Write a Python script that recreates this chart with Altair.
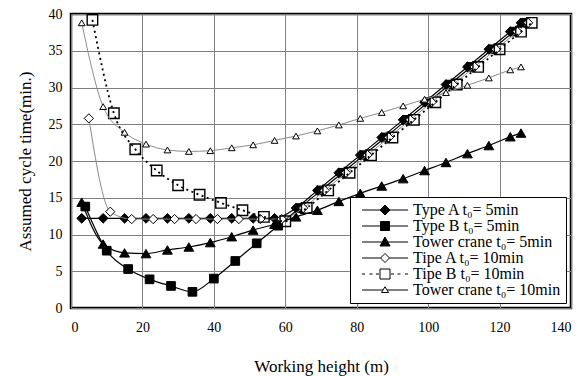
import altair as alt
import pandas as pd

FONT = "Times New Roman, Liberation Serif, serif"

series_names = [
    "Type A t₀= 5min",
    "Type B t₀= 5min",
    "Tower crane t₀= 5min",
    "Tipe A t₀= 10min",
    "Tipe B t₀= 10min",
    "Tower crane t₀= 10min",
]

# Type A, t = 5 min (filled diamonds)
x_type_a5 = [3, 9, 15, 21, 27, 33, 39, 45, 51, 57, 63, 69, 75, 81, 87, 93, 99, 105, 111, 117, 123, 126]
y_type_a5 = [12.2, 12.2, 12.2, 12.2, 12.2, 12.2, 12.2, 12.2, 12.2, 12.2,
             13.6, 16.0, 18.4, 20.8, 23.2, 25.6, 28.0, 30.4, 32.8, 35.2, 37.6, 38.8]

# Type B, t = 5 min (filled squares)
x_type_b5 = [4, 10, 16, 22, 28, 34, 40, 46, 52, 58, 64, 70, 76, 82, 88, 94, 100, 106, 112, 118, 124, 127]
y_type_b5 = [13.8, 7.8, 5.3, 3.9, 3.0, 2.2, 4.0, 6.4, 8.8, 11.2,
             13.6, 16.0, 18.4, 20.8, 23.2, 25.6, 28.0, 30.4, 32.8, 35.2, 37.6, 38.8]

# Tower crane, t = 5 min (filled triangles)
x_tower5 = [3, 9, 15, 21, 27, 33, 39, 45, 51, 57, 63, 69, 75, 81, 87, 93, 99, 105, 111, 117, 123, 126]
y_tower5 = [14.4, 8.7, 7.5, 7.4, 7.9, 8.3, 8.9, 9.7, 10.6, 11.4, 12.4,
            13.3, 14.5, 15.6, 16.6, 17.6, 18.7, 19.8, 21.0, 22.1, 23.3, 23.8]

# Tipe A, t = 10 min (open diamonds)
x_tipe_a10 = [5, 11, 17, 23, 29, 35, 41, 47, 53, 59, 65, 71, 77, 83, 89, 95, 101, 107, 113, 119, 125, 128]
y_tipe_a10 = [25.8, 13.1, 12.1, 12.1, 12.1, 12.1, 12.1, 12.1, 12.1, 12.1,
              13.6, 16.0, 18.4, 20.8, 23.2, 25.6, 28.0, 30.4, 32.8, 35.2, 37.6, 38.8]

# Tipe B, t = 10 min (open squares, dotted)
x_tipe_b10 = [6, 12, 18, 24, 30, 36, 42, 48, 54, 60, 66, 72, 78, 84, 90, 96, 102, 108, 114, 120, 126, 129]
y_tipe_b10 = [39.2, 26.5, 21.6, 18.7, 16.7, 15.4, 14.3, 13.3, 12.4, 11.8,
              13.6, 16.0, 18.4, 20.8, 23.2, 25.6, 28.0, 30.4, 32.8, 35.2, 37.6, 38.8]

# Tower crane, t = 10 min (open triangles)
x_tower10 = [3, 9, 15, 21, 27, 33, 39, 45, 51, 57, 63, 69, 75, 81, 87, 93, 99, 105, 111, 117, 123, 126]
y_tower10 = [38.8, 27.4, 23.9, 22.3, 21.5, 21.3, 21.4, 21.8, 22.2, 22.8, 23.4,
             24.1, 24.9, 25.8, 26.6, 27.5, 28.4, 29.3, 30.3, 31.3, 32.4, 32.8]

x_ticks = [0, 20, 40, 60, 80, 100, 120, 140]
y_ticks = [0, 5, 10, 15, 20, 25, 30, 35, 40]

xs_all = [x_type_a5, x_type_b5, x_tower5, x_tipe_a10, x_tipe_b10, x_tower10]
ys_all = [y_type_a5, y_type_b5, y_tower5, y_tipe_a10, y_tipe_b10, y_tower10]

df = pd.concat(
    [pd.DataFrame({"series": n, "x": xs, "y": ys}) for n, xs, ys in zip(series_names, xs_all, ys_all)],
    ignore_index=True,
)

styles = [
    dict(lc="black", lw=1.2, dash=None, shape="diamond", size=95, fill="black", filled=True, sw=1),
    dict(lc="black", lw=1.2, dash=None, shape="square", size=75, fill="black", filled=True, sw=1),
    dict(lc="black", lw=1.2, dash=None, shape="triangle-up", size=95, fill="black", filled=True, sw=1),
    dict(lc="#8a8a8a", lw=1.0, dash=None, shape="diamond", size=85, fill="white", filled=True, sw=1),
    dict(lc="black", lw=1.8, dash=[2, 3.5], shape="square", size=110, fill=None, filled=False, sw=1.4),
    dict(lc="#8a8a8a", lw=1.0, dash=None, shape="triangle-up", size=45, fill="white", filled=True, sw=1),
]

legend_paths = [
    "M-4.6,0H-1M1,0H4.6M0,-1L1,0L0,1L-1,0Z",
    "M-4.6,0H-0.9M0.9,0H4.6M-0.9,-0.9H0.9V0.9H-0.9Z",
    "M-4.6,0H-0.55M0.55,0H4.6M0,-1L1,0.8L-1,0.8Z",
    "M-4.6,0H-0.9M0.9,0H4.6M0,-0.9L0.9,0L0,0.9L-0.9,0Z",
    "M-4.6,0H-4.0M-3.1,0H-2.5M-1.8,0H-1.2M1.2,0H1.8M2.5,0H3.1M4.0,0H4.6M-1,-1H1V1H-1Z",
    "M-4.6,0H-0.4M0.4,0H4.6M0,-0.65L0.7,0.5L-0.7,0.5Z",
]
legend_fills = ["black", "black", "black", "white", "white", "white"]

xscale = alt.Scale(domain=[0, 140], nice=False, zero=False)
yscale = alt.Scale(domain=[0, 40], nice=False, zero=False)
axis_font = dict(labelFont=FONT, labelFontSize=14, labelColor="black",
                 titleFont=FONT, titleFontSize=17, titleFontWeight="normal", titleColor="black",
                 gridColor="#808080", gridWidth=1, gridOpacity=1)
xaxis = alt.Axis(values=x_ticks, title="Working height (m)", labelPadding=12, titlePadding=24,
                 grid=True, ticks=False, domain=False, **axis_font)
yaxis = alt.Axis(values=y_ticks, title="Assumed cycle time(min.)", labelPadding=9, titlePadding=14,
                 grid=True, ticks=False, domain=False, **axis_font)

layers = []
for name, st in zip(series_names, styles):
    base = alt.Chart(df).transform_filter(alt.datum.series == name)
    enc = dict(
        x=alt.X("x:Q", scale=xscale, axis=xaxis),
        y=alt.Y("y:Q", scale=yscale, axis=yaxis),
    )
    line_kw = dict(color=st["lc"], strokeWidth=st["lw"], interpolate="monotone")
    if st["dash"]:
        line_kw["strokeDash"] = st["dash"]
    layers.append(base.mark_line(**line_kw).encode(**enc))
    pt_kw = dict(shape=st["shape"], size=st["size"], stroke="black", strokeWidth=st["sw"],
                 opacity=1, filled=st["filled"])
    if st["fill"]:
        pt_kw["fill"] = st["fill"]
    else:
        pt_kw["color"] = "black"
    layers.append(base.mark_point(**pt_kw).encode(**enc))

legend_layer = (
    alt.Chart(pd.DataFrame({"series": series_names}))
    .transform_filter("false")
    .mark_point(opacity=1, filled=True)
    .encode(
        shape=alt.Shape("series:N", scale=alt.Scale(domain=series_names, range=legend_paths), title=None),
        fill=alt.Fill("series:N", scale=alt.Scale(domain=series_names, range=legend_fills), title=None),
        stroke=alt.Stroke("series:N", scale=alt.Scale(domain=series_names, range=["black"] * 6), title=None),
    )
)

chart = (
    alt.layer(*layers, legend_layer)
    .properties(
        width=500,
        height=294,
        padding={"left": 71, "top": 14, "right": 16, "bottom": 68},
        autosize=alt.AutoSizeParams(type="none"),
        background="white",
    )
    .configure(font=FONT)
    .configure_view(stroke="black", strokeWidth=2.5)
    .configure_axis(**axis_font)
    .configure_legend(
        orient="bottom-right", offset=5, padding=5,
        strokeColor="black", fillColor="white", strokeWidth=1,
        labelFont=FONT, labelFontSize=16, labelColor="black", labelLimit=0,
        symbolSize=100, symbolStrokeWidth=1, symbolOffset=22, labelOffset=20,
        rowPadding=0,
    )
)

chart.save("out.html", embed_options={"renderer": "svg", "actions": False})
